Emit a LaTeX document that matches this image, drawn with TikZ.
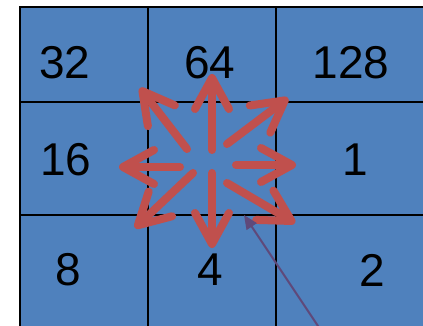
\documentclass[tikz,border=0pt]{standalone}
\usepackage{fontspec}
\setmainfont{Liberation Sans}
\usetikzlibrary{arrows.meta}
\definecolor{cellblue}{HTML}{4F81BD}
\definecolor{arrred}{HTML}{C0504D}
\definecolor{arrpurple}{HTML}{5F497A}
\tikzset{
  num/.style={font=\fontsize{46}{46}\selectfont, text=black, inner sep=0pt, anchor=center},
  gridline/.style={draw=black, line width=2.2pt},
  redarrow/.style={draw=arrred, line width=8pt, line cap=round,
    -{Straight Barb[length=31pt,width=34pt,round]}},
  pointer/.style={draw=arrpurple, line width=2pt,
    -{Triangle[length=14pt,width=12pt]}}
}
\begin{document}
\begin{tikzpicture}[x=1pt,y=-1pt]
\useasboundingbox (0,0) rectangle (423,326);
\fill[cellblue] (20,7) rectangle (430,335);
\draw[gridline] (20,335) -- (20,7) -- (430,7);
\draw[gridline] (148,7) -- (148,335);
\draw[gridline] (276,7) -- (276,335);
\draw[gridline] (20,102) -- (430,102);
\draw[gridline] (20,215) -- (430,215);
\node[num] (n32) at (65,63) {32};
\node[num] (n64) at (210,63) {64};
\node[num] (n128) at (351,63) {128};
\node[num] (n16) at (66,160) {16};
\node[num] (n1) at (355,160) {1};
\node[num] (n8) at (68,270) {8};
\node[num] (n4) at (210,270) {4};
\node[num] (n2) at (372,270) {2};
% arrow endpoints
\coordinate (uS) at (212,150); \coordinate (uE) at (212,74);
\coordinate (dS) at (212,173); \coordinate (dE) at (212,248);
\coordinate (lS) at (180,167); \coordinate (lE) at (119,167);
\coordinate (rS) at (236,165); \coordinate (rE) at (296,165);
\coordinate (ulS) at (187,149); \coordinate (ulE) at (140,88);
\coordinate (urS) at (227,144); \coordinate (urE) at (288,98);
\coordinate (dlS) at (193,173); \coordinate (dlE) at (135,228);
\coordinate (drS) at (227,183); \coordinate (drE) at (295,223);
\foreach \a in {u,d,l,r,ul,ur,dl,dr}{
  \draw[redarrow] (\a S) -- (\a E);
}
\coordinate (pS) at (322,332);
\coordinate (pE) at (244,215);
\draw[pointer] (pS) -- (pE);
\end{tikzpicture}
\end{document}
